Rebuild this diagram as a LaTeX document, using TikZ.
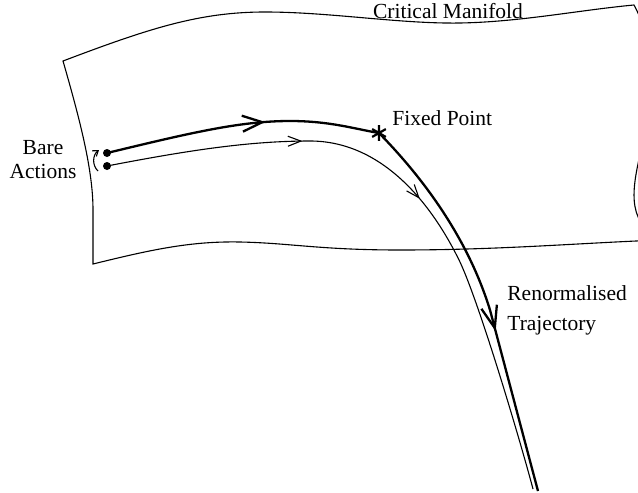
\documentclass[tikz,border=0pt]{standalone}
\usepackage{fontspec}
\setmainfont{Liberation Serif}
\usetikzlibrary{arrows.meta,decorations.markings}
\tikzset{
  tipL/.tip={Straight Barb[length=10pt,width=8pt]},
  tipD/.tip={Straight Barb[length=11pt,width=8pt]},
  tipS/.tip={Straight Barb[length=6.5pt,width=5pt]},
  edge/.style={line width=0.55pt},
  thickpath/.style={line width=1.15pt},
  thinpath/.style={line width=0.55pt},
  lbl/.style={font=\fontsize{10.75}{12}\selectfont, inner sep=0pt},
  dotnode/.style={circle, fill=black, inner sep=0pt, minimum size=4pt},
  starnode/.style={circle, inner sep=0pt, minimum size=7.5pt},
  asterisk/.style={line width=1.1pt},
}
\begin{document}
\begin{tikzpicture}[x=0.5pt,y=-0.5pt]
\useasboundingbox (0,0) rectangle (638,493);
\clip (0,0) rectangle (638,493);
% critical manifold sheet
\draw[edge] (63,61) .. controls (150,28) and (200,12) .. (265,12)
  .. controls (330,12) and (400,24) .. (460,23)
  .. controls (520,22) and (580,10) .. (634,5)
  .. controls (690,110) and (590,200) .. (660,240)
  .. controls (580,243) and (500,250) .. (400,250)
  .. controls (320,250) and (290,243) .. (240,242)
  .. controls (190,241) and (150,250) .. (93,264)
  -- (93,210) .. controls (93,170) and (80,120) .. (63,61) -- cycle;
% nodes
\node[dotnode] (A) at (107,153) {};
\node[dotnode] (B) at (107,166) {};
\node[starnode] (F) at (379,133) {};
\draw[asterisk] (F.90) -- (F.270) (F.30) -- (F.210) (F.150) -- (F.330);
\coordinate (E1) at (538,491);
\coordinate (E2) at (533,489);
% thick trajectory
\draw[thickpath, postaction={decorate},
  decoration={markings, mark=at position 0.585 with {\arrow{tipL}}}]
  (A.center) .. controls (190,133) and (240,121) .. (290,121)
  .. controls (330,121) and (355,129) .. (F.center);
\draw[thickpath, postaction={decorate},
  decoration={markings, mark=at position 0.585 with {\arrow{tipD}}}]
  (F.center) .. controls (430,185) and (470,245) .. (490,310)
  .. controls (503,359) and (526,446) .. (E1);
% thin trajectory
\draw[thinpath, postaction={decorate},
  decoration={markings, mark=at position 0.305 with {\arrow{tipS}},
                        mark=at position 0.515 with {\arrow{tipS}}}]
  (B.center) .. controls (190,150) and (250,141) .. (310,141)
  .. controls (380,141) and (430,200) .. (460,262)
  .. controls (480,305) and (520,440) .. (E2);
% small curved arrow between bare actions
\draw[thinpath, -{Straight Barb[length=2.5pt,width=3.5pt]}]
  ([shift={(-9,5)}]B.center) to[bend left=50] ([shift={(-8,-3)}]A.center);
% labels
\node[lbl, anchor=base] (cm) at (448,18) {Critical Manifold};
\node[lbl, anchor=base west] (fp) at (392,125) {Fixed Point};
\node[lbl, align=center] (ba) at (43,160) {Bare\\Actions};
\node[lbl, align=left, anchor=north west] (rt) at (507,285) {Renormalised\\[3pt]Trajectory};
\end{tikzpicture}
\end{document}
